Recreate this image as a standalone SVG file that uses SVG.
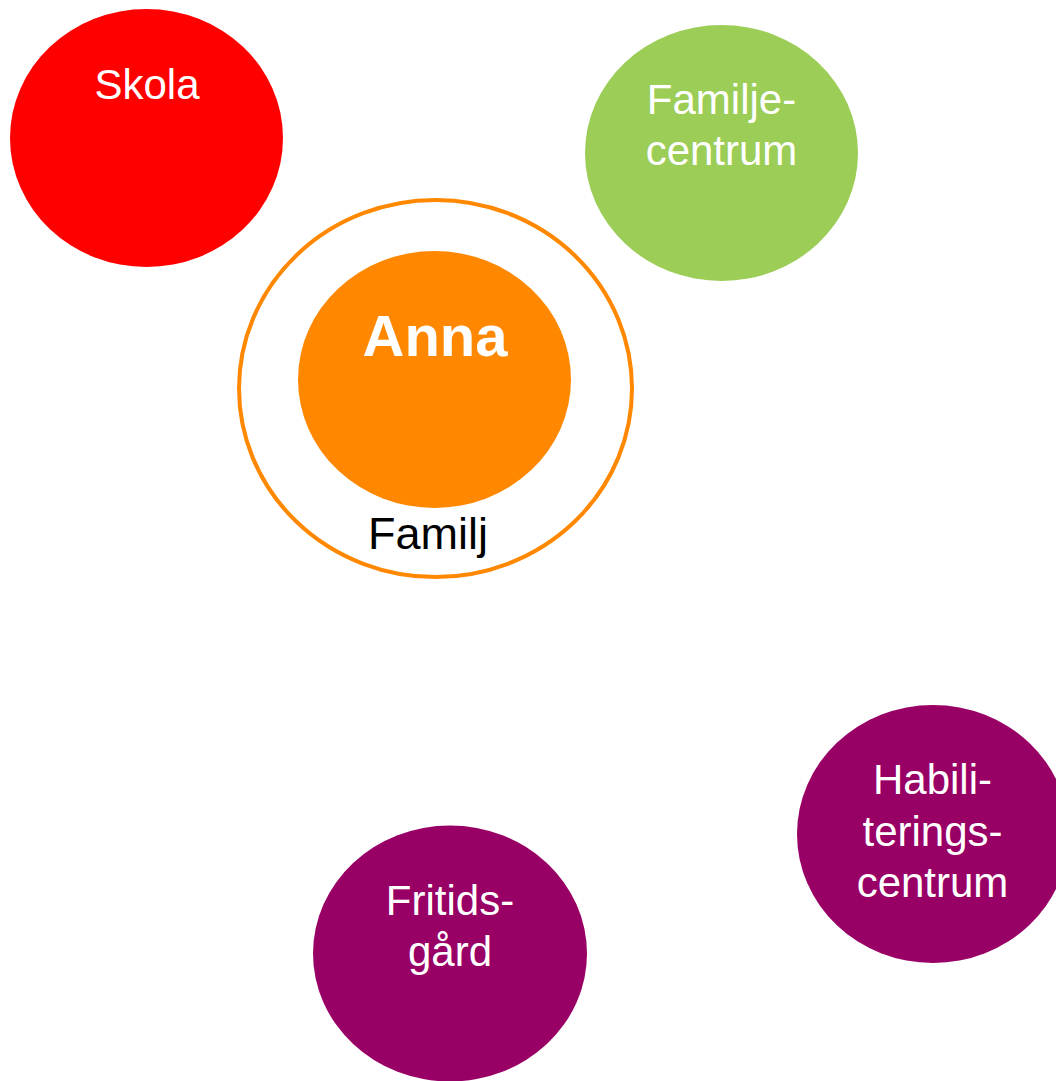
<svg xmlns="http://www.w3.org/2000/svg" width="1056" height="1081" viewBox="0 0 1056 1081">
<style>
text{font-family:"Liberation Sans",Arial,sans-serif;text-anchor:middle}
.w{fill:#fff;font-size:42px}
.b{fill:#000;font-size:45px}
.n{fill:#fff;font-size:58px;font-weight:bold}
</style>
<rect width="1056" height="1081" fill="#fff"/>
<g id="skola">
<ellipse cx="146.5" cy="138" rx="136.5" ry="129" fill="#FF0000"/>
<text class="w" x="147" y="99">Skola</text>
</g>
<g id="familjecentrum">
<ellipse cx="721.5" cy="153" rx="136.5" ry="128" fill="#9BCD57"/>
<text class="w" x="721.5" y="114">Familje-</text>
<text class="w" x="721.5" y="165">centrum</text>
</g>
<g id="familj">
<ellipse cx="435.5" cy="388.5" rx="196.5" ry="188.5" fill="none" stroke="#FF8800" stroke-width="4"/>
<text class="b" x="428" y="549">Familj</text>
</g>
<g id="anna">
<ellipse cx="434.5" cy="379.5" rx="136.5" ry="128.5" fill="#FF8800"/>
<text class="n" x="435" y="356">Anna</text>
</g>
<g id="habiliteringscentrum">
<ellipse cx="933" cy="834" rx="136" ry="129" fill="#990066"/>
<text class="w" x="932.5" y="794">Habili-</text>
<text class="w" x="932.5" y="846">terings-</text>
<text class="w" x="932.5" y="897">centrum</text>
</g>
<g id="fritidsgard">
<ellipse cx="450" cy="953.5" rx="137" ry="128" fill="#990066"/>
<text class="w" x="450" y="915">Fritids-</text>
<text class="w" x="450" y="966">gård</text>
</g>
<g id="connectors"></g>
</svg>
